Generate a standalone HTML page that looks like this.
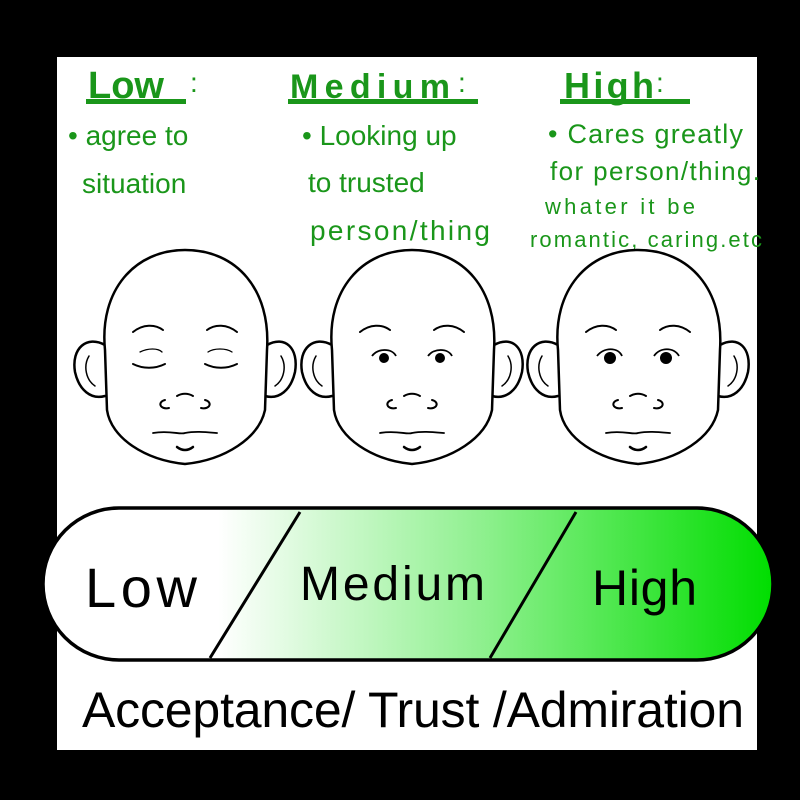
<!DOCTYPE html>
<html><head><style>
html,body{margin:0;padding:0;background:#000;width:800px;height:800px;overflow:hidden}
svg{display:block}
.g{fill:#1a961a;font-family:"Liberation Sans",sans-serif}
.k{fill:#000;font-family:"Liberation Sans",sans-serif}
</style></head><body>
<svg width="800" height="800" viewBox="0 0 800 800" xmlns="http://www.w3.org/2000/svg">
<defs>
<linearGradient id="gr" x1="0" x2="1" y1="0" y2="0">
<stop offset="0" stop-color="#fff"/>
<stop offset="0.24" stop-color="#fff"/>
<stop offset="0.6" stop-color="#8ff08f"/>
<stop offset="1" stop-color="#00dd00"/>
</linearGradient>
<g id="head" fill="none" stroke="#000" stroke-width="2.5" stroke-linecap="round">
<path d="M-80,95 C-98,85 -114,98 -110,122 C-106,140 -94,150 -80,146" fill="#fff"/>
<path d="M-96,106 C-102,116 -99,130 -90,136" stroke-width="1.5"/>
<path d="M82,95 C100,85 114,98 110,122 C106,140 94,150 80,146" fill="#fff"/>
<path d="M96,106 C102,116 99,130 90,136" stroke-width="1.5"/>
<path d="M-80,100 C-86,40 -50,0 0,0 C52,0 86,40 82,100 L80,160 C74,188 40,210 0,214 C-40,210 -74,188 -78,160 Z" fill="#fff"/>
<path d="M-52,82 C-42,74 -30,74 -22,80" stroke-width="2"/>
<path d="M22,80 C30,74 42,74 52,82" stroke-width="2"/>
<path d="M-20,150 C-28,152 -25,160 -16,158 M16,158 C25,160 28,152 20,150 M-8,146 C-3,143 3,143 8,146" stroke-width="2"/>
<path d="M-32,183 C-15,180 -5,185 0,183 C10,181 20,182 32,183" stroke-width="1.8"/>
<path d="M-8,197 C-3,201 3,201 8,197" stroke-width="2.5"/>
</g>
</defs>
<rect x="57" y="57" width="700" height="693" fill="#fff"/>

<text class="g" x="88" y="98" font-size="38" font-weight="bold">Low</text>
<rect x="86" y="99" width="100" height="5" fill="#1a961a"/>
<text class="g" x="190" y="92" font-size="28">:</text>
<text class="g" x="290" y="98" font-size="34" font-weight="bold" textLength="160">Medium</text>
<rect x="288" y="99" width="190" height="5" fill="#1a961a"/>
<text class="g" x="458" y="92" font-size="28">:</text>
<text class="g" x="564" y="98" font-size="36" font-weight="bold" textLength="90">High</text>
<rect x="560" y="99" width="130" height="5" fill="#1a961a"/>
<text class="g" x="656" y="92" font-size="28">:</text>

<text class="g" x="68" y="145" font-size="28">• agree to</text>
<text class="g" x="82" y="193" font-size="28">situation</text>
<text class="g" x="302" y="145" font-size="28">• Looking up</text>
<text class="g" x="308" y="192" font-size="28">to trusted</text>
<text class="g" x="310" y="240" font-size="28" textLength="180">person/thing</text>
<text class="g" x="548" y="143" font-size="27" textLength="195">• Cares greatly</text>
<text class="g" x="550" y="180" font-size="26" textLength="210">for person/thing.</text>
<text class="g" x="545" y="214" font-size="22" textLength="150">whater it be</text>
<text class="g" x="530" y="247" font-size="22" textLength="232">romantic, caring.etc</text>

<use href="#head" x="185" y="250"/>
<use href="#head" x="412" y="250"/>
<use href="#head" x="638" y="250"/>
<g fill="none" stroke="#000" stroke-width="2" stroke-linecap="round">
<path d="M133,364 C143,369 155,369 165,364 M205,364 C215,369 227,369 237,364"/>
<path d="M140,352 C148,348 158,348 162,352 M208,352 C214,348 226,348 232,352" stroke-width="1.3"/>
</g>
<g fill="#000">
<circle cx="384" cy="358" r="5"/><circle cx="440" cy="358" r="5"/>
<circle cx="610" cy="358" r="6"/><circle cx="666" cy="358" r="6"/>
</g>
<g fill="none" stroke="#000" stroke-width="1.8">
<path d="M372,356 C378,348 392,348 396,356 M428,356 C434,348 448,348 452,356"/>
<path d="M597,356 C604,347 618,347 622,356 M654,356 C660,347 674,347 679,356"/>
</g>

<rect x="43" y="508" width="730" height="152" rx="76" fill="url(#gr)" stroke="#000" stroke-width="3.5"/>
<path d="M300,512 L210,658 M576,512 L490,658" stroke="#000" stroke-width="3"/>
<text class="k" x="85" y="607" font-size="56" textLength="112">Low</text>
<text class="k" x="300" y="600" font-size="48" textLength="185">Medium</text>
<text class="k" x="592" y="605" font-size="50" textLength="105">High</text>

<text class="k" x="82" y="727" font-size="50" textLength="662">Acceptance/ Trust /Admiration</text>
</svg>
</body></html>
